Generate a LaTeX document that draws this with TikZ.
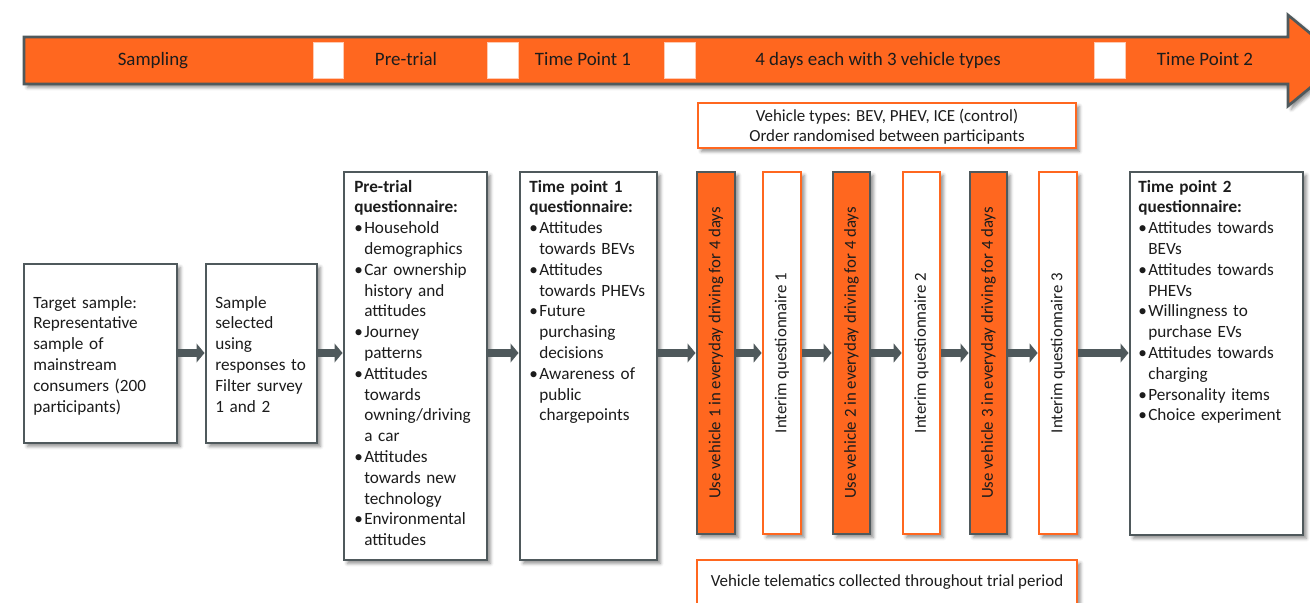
\documentclass[tikz,border=0pt]{standalone}
\usepackage{fontspec}
\setmainfont{Carlito}
\usetikzlibrary{arrows.meta,shadows.blur}

\definecolor{tangerine}{RGB}{255,103,31}
\definecolor{slate}{RGB}{79,89,92}
\definecolor{ink}{RGB}{28,28,28}

% bullet item with hanging indent (lines inside an item are broken with \newline)
\newcommand\bitem[1]{\par\hangindent=7.5pt\hangafter=1\noindent\makebox[7.5pt][l]{\textbullet}#1}

\tikzset{
  softshadow/.style={blur shadow={shadow xshift=2.5pt, shadow yshift=-2.5pt,
      shadow blur radius=2.5pt, shadow opacity=45}},
  span/.style 2 args={minimum width=#1*0.75pt, minimum height=#2*0.75pt, inner sep=0pt},
  greybox/.style={draw=slate, line width=2.2pt, fill=white, softshadow},
  drivebox/.style={draw=slate, line width=2.2pt, fill=tangerine, softshadow},
  qbox/.style={draw=tangerine, line width=2pt, fill=white, softshadow},
  gapbox/.style={fill=white, draw=tangerine!35, line width=0.6pt, inner sep=0pt},
  flow/.style={draw=slate, line width=6pt, -{Triangle[length=6pt,width=14pt]}},
  body/.style={font=\fontsize{12.9}{15.6}\selectfont, text=ink, inner sep=0pt,
      align=left, text width=125pt, anchor=base west},
  vtext/.style={font=\fontsize{12.6}{14}\selectfont, rotate=90, text=ink, inner sep=0pt},
  bandtext/.style={font=\fontsize{14.2}{16}\selectfont, text=ink, inner sep=0pt, anchor=base},
  notetext/.style={font=\fontsize{12.7}{15}\selectfont, text=ink, inner sep=0pt, align=center},
}

\begin{document}
\begin{tikzpicture}[x=0.75pt,y=-0.75pt]
\useasboundingbox (0,0) rectangle (1310,603);
\clip (0,0) rectangle (1310,603);

% timeline band with arrow head
\draw[fill=tangerine, draw=slate, line width=2pt, softshadow]
  (24,37) -- (1288,37) -- (1288,15) -- (1343,60.5) -- (1288,106) -- (1288,84) -- (24,84) -- cycle;
\node[gapbox, span={30}{36}] (gap1) at (328,60) {};
\node[gapbox, span={31}{36}] (gap2) at (502.5,60) {};
\node[gapbox, span={31}{36}] (gap3) at (679.5,60) {};
\node[gapbox, span={31}{36}] (gap4) at (1110,60) {};
\node[bandtext] (lbl-sampling) at (153,65.5) {Sampling};
\node[bandtext] (lbl-pretrial) at (406,65.5) {Pre-trial};
\node[bandtext] (lbl-tp1) at (583,65.5) {Time Point 1};
\node[bandtext] (lbl-days) at (878,65.5) {4 days each with 3 vehicle types};
\node[bandtext] (lbl-tp2) at (1205,65.5) {Time Point 2};

% note boxes
\node[qbox, span={378}{45}] (types) at (887,125.5) {};
\node[notetext] (types-text) at (887,127) {Vehicle types: BEV, PHEV, ICE (control)\\Order randomised between participants};
\node[qbox, span={380}{60}] (telem) at (887,590) {};
\node[notetext] (telem-text) at (887,582) {Vehicle telematics collected throughout trial period};

% stage boxes
\node[greybox, span={153}{179}] (target) at (100.5,353.5) {};
\node[greybox, span={111}{179}] (sample) at (261.5,353.5) {};
\node[greybox, span={143}{388}] (pretrial) at (415.5,366) {};
\node[greybox, span={137}{388}] (tp1) at (588.5,366) {};
\node[drivebox, span={38}{362}] (veh1) at (716,353) {};
\node[qbox, span={38}{362}] (int1) at (782,353) {};
\node[drivebox, span={37}{362}] (veh2) at (851.5,353) {};
\node[qbox, span={37}{362}] (int2) at (921.5,353) {};
\node[drivebox, span={37}{362}] (veh3) at (988.5,353) {};
\node[qbox, span={38}{362}] (int3) at (1058,353) {};
\node[greybox, span={173}{363}] (tp2) at (1216.5,353.5) {};

% box texts
\node[body] (target-text) at (33,308) {Target sample:\\Representative\\sample of\\mainstream\\consumers (200\\participants)};
\node[body] (sample-text) at (215,308) {Sample\\selected\\using\\responses to\\Filter survey\\1 and 2};
\node[body] (pretrial-text) at (354,192) {\textbf{Pre-trial}\\\textbf{questionnaire:}
  \bitem{Household\newline demographics}
  \bitem{Car ownership\newline history and\newline attitudes}
  \bitem{Journey\newline patterns}
  \bitem{Attitudes\newline towards\newline owning/driving\newline a car}
  \bitem{Attitudes\newline towards new\newline technology}
  \bitem{Environmental\newline attitudes}\par};
\node[body] (tp1-text) at (529,192) {\textbf{Time point 1}\\\textbf{questionnaire:}
  \bitem{Attitudes\newline towards BEVs}
  \bitem{Attitudes\newline towards PHEVs}
  \bitem{Future\newline purchasing\newline decisions}
  \bitem{Awareness of\newline public\newline chargepoints}\par};
\node[body] (tp2-text) at (1138,192) {\textbf{Time point 2}\\\textbf{questionnaire:}
  \bitem{Attitudes towards\newline BEVs}
  \bitem{Attitudes towards\newline PHEVs}
  \bitem{Willingness to\newline purchase EVs}
  \bitem{Attitudes towards\newline charging}
  \bitem{Personality items}
  \bitem{Choice experiment}\par};

\node[vtext] (veh1-text) at (veh1) {Use vehicle 1 in everyday driving for 4 days};
\node[vtext] (int1-text) at (int1) {Interim questionnaire 1};
\node[vtext] (veh2-text) at (veh2) {Use vehicle 2 in everyday driving for 4 days};
\node[vtext] (int2-text) at (int2) {Interim questionnaire 2};
\node[vtext] (veh3-text) at (veh3) {Use vehicle 3 in everyday driving for 4 days};
\node[vtext] (int3-text) at (int3) {Interim questionnaire 3};

% flow connectors along one row
\coordinate (row) at (0,353);
\foreach \a/\b in {target/sample, sample/pretrial, pretrial/tp1, tp1/veh1, veh1/int1,
                   int1/veh2, veh2/int2, int2/veh3, veh3/int3, int3/tp2}
  \draw[flow] (\a.east |- row) -- (\b.west |- row);
\end{tikzpicture}
\end{document}
